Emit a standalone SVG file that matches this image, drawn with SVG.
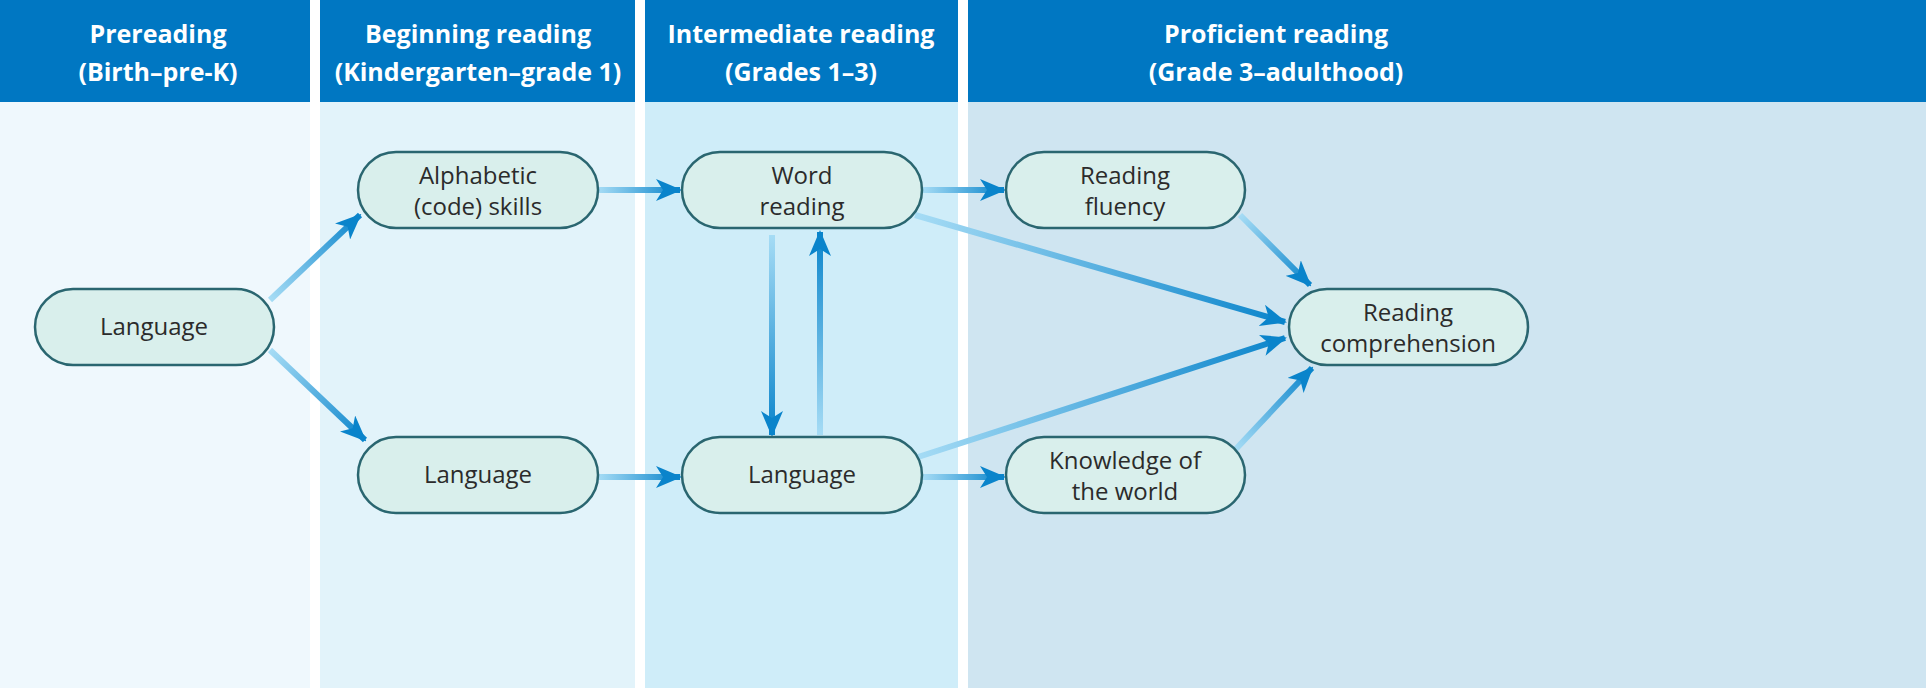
<svg xmlns="http://www.w3.org/2000/svg" width="1926" height="688" viewBox="0 0 1926 688">
<style>
.hd{fill:#0077c2}
.ht{font-family:"Open Sans",sans-serif;font-weight:bold;font-size:25px;fill:#fff;text-anchor:middle}
.nd{fill:#d9efec;stroke:#2a6670;stroke-width:2.5}
.nt{font-family:"Open Sans",sans-serif;font-size:24px;fill:#2b2b2b;text-anchor:middle}
.ar{stroke-width:6;fill:none;marker-end:url(#ah)}
</style>
<defs>
<marker id="ah" markerUnits="userSpaceOnUse" markerWidth="26" markerHeight="22" refX="24" refY="11" orient="auto">
<path d="M0,0 L26,11 L0,22 L7,11 z" fill="#0a84cb"/>
</marker>
<linearGradient id="g1" gradientUnits="userSpaceOnUse" x1="270" y1="300" x2="360" y2="215"><stop offset="0" stop-color="#a6dcf5"/><stop offset="1" stop-color="#0a84cb"/></linearGradient>
<linearGradient id="g2" gradientUnits="userSpaceOnUse" x1="270" y1="350" x2="365" y2="440"><stop offset="0" stop-color="#a6dcf5"/><stop offset="1" stop-color="#0a84cb"/></linearGradient>
<linearGradient id="g3" gradientUnits="userSpaceOnUse" x1="598" y1="0" x2="680" y2="0"><stop offset="0" stop-color="#a6dcf5"/><stop offset="1" stop-color="#0a84cb"/></linearGradient>
<linearGradient id="g4" gradientUnits="userSpaceOnUse" x1="922" y1="0" x2="1004" y2="0"><stop offset="0" stop-color="#a6dcf5"/><stop offset="1" stop-color="#0a84cb"/></linearGradient>
<linearGradient id="g5" gradientUnits="userSpaceOnUse" x1="0" y1="235" x2="0" y2="435"><stop offset="0" stop-color="#a6dcf5"/><stop offset="1" stop-color="#0a84cb"/></linearGradient>
<linearGradient id="g6" gradientUnits="userSpaceOnUse" x1="0" y1="435" x2="0" y2="232"><stop offset="0" stop-color="#a6dcf5"/><stop offset="1" stop-color="#0a84cb"/></linearGradient>
<linearGradient id="g9" gradientUnits="userSpaceOnUse" x1="1240" y1="215" x2="1310" y2="285"><stop offset="0" stop-color="#a6dcf5"/><stop offset="1" stop-color="#0a84cb"/></linearGradient>
<linearGradient id="g10" gradientUnits="userSpaceOnUse" x1="915" y1="215" x2="1285" y2="322"><stop offset="0" stop-color="#a6dcf5"/><stop offset="1" stop-color="#0a84cb"/></linearGradient>
<linearGradient id="g11" gradientUnits="userSpaceOnUse" x1="915" y1="458" x2="1285" y2="338"><stop offset="0" stop-color="#a6dcf5"/><stop offset="1" stop-color="#0a84cb"/></linearGradient>
<linearGradient id="g12" gradientUnits="userSpaceOnUse" x1="1235" y1="450" x2="1312" y2="368"><stop offset="0" stop-color="#a6dcf5"/><stop offset="1" stop-color="#0a84cb"/></linearGradient>
</defs>
<rect width="1926" height="688" fill="#fff"/>
<rect x="0" y="102" width="310" height="586" fill="#eff8fd"/>
<rect x="320" y="102" width="315" height="586" fill="#e2f3fa"/>
<rect x="645" y="102" width="313" height="586" fill="#cfedf9"/>
<rect x="968" y="102" width="958" height="586" fill="#cfe5f1"/>
<g id="headers">
<rect class="hd" x="0" y="0" width="310" height="102"/>
<rect class="hd" x="320" y="0" width="315" height="102"/>
<rect class="hd" x="645" y="0" width="313" height="102"/>
<rect class="hd" x="968" y="0" width="958" height="102"/>
<text class="ht" x="158" y="43">Prereading</text><text class="ht" x="158" y="81">(Birth–pre-K)</text>
<text class="ht" x="478" y="43">Beginning reading</text><text class="ht" x="478" y="81">(Kindergarten–grade 1)</text>
<text class="ht" x="801" y="43">Intermediate reading</text><text class="ht" x="801" y="81">(Grades 1–3)</text>
<text class="ht" x="1276" y="43">Proficient reading</text><text class="ht" x="1276" y="81">(Grade 3–adulthood)</text>
</g>
<g id="connectors">
<line class="ar" stroke="url(#g1)" x1="270" y1="300" x2="360" y2="215"/>
<line class="ar" stroke="url(#g2)" x1="270" y1="350" x2="365" y2="440"/>
<line class="ar" stroke="url(#g3)" x1="598" y1="190" x2="680" y2="190"/>
<line class="ar" stroke="url(#g3)" x1="598" y1="477" x2="680" y2="477"/>
<line class="ar" stroke="url(#g5)" x1="772" y1="235" x2="772" y2="435"/>
<line class="ar" stroke="url(#g6)" x1="820" y1="435" x2="820" y2="232"/>
<line class="ar" stroke="url(#g4)" x1="922" y1="190" x2="1004" y2="190"/>
<line class="ar" stroke="url(#g4)" x1="922" y1="477" x2="1004" y2="477"/>
<line class="ar" stroke="url(#g9)" x1="1240" y1="215" x2="1310" y2="285"/>
<line class="ar" stroke="url(#g10)" x1="915" y1="215" x2="1285" y2="322"/>
<line class="ar" stroke="url(#g11)" x1="915" y1="458" x2="1285" y2="338"/>
<line class="ar" stroke="url(#g12)" x1="1235" y1="450" x2="1312" y2="368"/>
</g>
<g id="n-lang1"><rect class="nd" x="35" y="289" width="239" height="76" rx="38"/><text class="nt" x="154" y="335">Language</text></g>
<g id="n-alpha"><rect class="nd" x="358" y="152" width="240" height="76" rx="38"/><text class="nt" x="478" y="184">Alphabetic</text><text class="nt" x="478" y="215">(code) skills</text></g>
<g id="n-word"><rect class="nd" x="682" y="152" width="240" height="76" rx="38"/><text class="nt" x="802" y="184">Word</text><text class="nt" x="802" y="215">reading</text></g>
<g id="n-fluency"><rect class="nd" x="1006" y="152" width="239" height="76" rx="38"/><text class="nt" x="1125" y="184">Reading</text><text class="nt" x="1125" y="215">fluency</text></g>
<g id="n-comp"><rect class="nd" x="1289" y="289" width="239" height="76" rx="38"/><text class="nt" x="1408" y="321">Reading</text><text class="nt" x="1408" y="352">comprehension</text></g>
<g id="n-lang2"><rect class="nd" x="358" y="437" width="240" height="76" rx="38"/><text class="nt" x="478" y="483">Language</text></g>
<g id="n-lang3"><rect class="nd" x="682" y="437" width="240" height="76" rx="38"/><text class="nt" x="802" y="483">Language</text></g>
<g id="n-know"><rect class="nd" x="1006" y="437" width="239" height="76" rx="38"/><text class="nt" x="1125" y="469">Knowledge of</text><text class="nt" x="1125" y="500">the world</text></g>
</svg>
